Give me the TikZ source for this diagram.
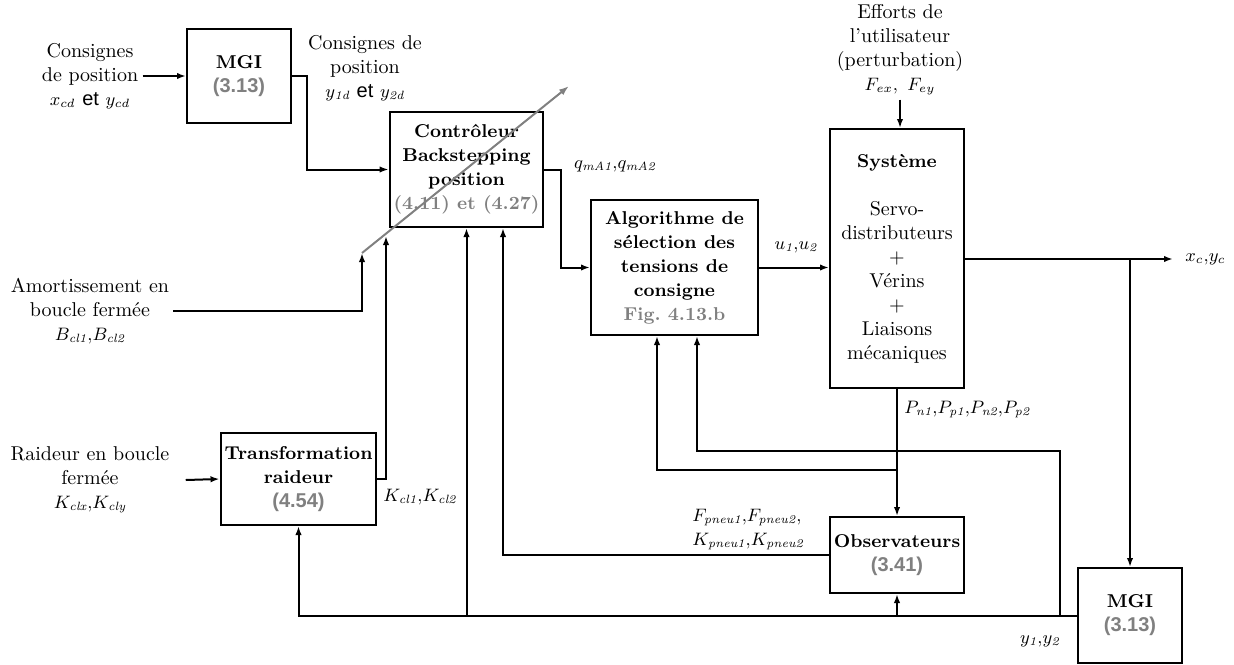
\documentclass[tikz,border=0pt]{standalone}
\usepackage{fontspec}
\newfontfamily\arialfont{Liberation Sans}
\usepackage{tikz}
\usetikzlibrary{
  arrows.meta,
  positioning,
  calc
}
\definecolor{RefGray}{RGB}{128,128,128}
\newcommand{\eqgris}[1]{{\color{RefGray}#1}}
\newcommand{\eqsans}[1]{{\fontsize{10}{12}\selectfont\arialfont\bfseries\color{RefGray}#1}}
\newcommand{\grand}[1]{{\fontsize{9}{12}\selectfont$#1$}}
\tikzset{
  bloc/.style={draw,line width=1pt,align=center,font=\fontsize{9.3}{12}\selectfont\bfseries,inner sep=2pt},
  entree/.style={align=center,inner sep=2pt},
  fleche/.style={-{Latex[length=4.5pt,width=3.2pt]},line width=1pt},
  reglage/.style={-{Latex[length=5pt,width=3.5pt]},line width=1pt,draw=RefGray}
}

\begin{document}
\begin{tikzpicture}[x=0.5pt,y=-0.5pt]
\useasboundingbox (0,0) rectangle (1234,664);
\node[bloc,minimum width=52pt,minimum height=47pt] (mgiA) at (239,76) {MGI\\\eqsans{(3.13)}};
\node[bloc,minimum width=73.5pt,minimum height=57.5pt] (ctrl) at (466.5,169.5) {Contr\^oleur\\Backstepping\\position\\\eqgris{(4.11) et (4.27)}};
\node[bloc,minimum width=83.5pt,minimum height=67.5pt] (algo) at (674.5,267.5) {Algorithme de\\s\'election des\\tensions de\\consigne\\\eqgris{Fig.\ 4.13.b}};
\node[bloc,font=\normalfont,minimum width=67pt,minimum height=129.5pt] (sys) at (897,258.5) {{\fontsize{9.3}{12}\selectfont\bfseries Syst\`eme}\\[12pt]Servo-\\distributeurs\\+\\V\'erins\\+\\Liaisons\\m\'ecaniques};
\node[bloc,minimum width=77.5pt,minimum height=46pt] (trans) at (298.5,479) {Transformation\\raideur\\\eqsans{(4.54)}};
\node[bloc,minimum width=67pt,minimum height=38pt] (obs) at (897,555) {Observateurs\\\eqsans{(3.41)}};
\node[bloc,minimum width=52pt,minimum height=47.5pt] (mgiB) at (1130,615.5) {MGI\\\eqsans{(3.13)}};

\node[entree] (inPos) at (90,76) {Consignes\\de position\\\grand{x_{cd}} {\arialfont et} \grand{y_{cd}}};
\node[entree] (inAmort) at (90,311) {Amortissement en\\boucle ferm\'ee\\\grand{B_{\mathit{cl1}}{,}B_{\mathit{cl2}}}};
\node[entree] (inRaid) at (90,480) {Raideur en boucle\\ferm\'ee\\\grand{K_{\mathit{clx}}{,}K_{\mathit{cly}}}};
\node[entree] (inEff) at (900,50) {Efforts de\\l'utilisateur\\(perturbation)\\\grand{F_{ex},\ F_{ey}}};
\node[entree] (lblPos) at (365,68) {Consignes de\\position\\\grand{y_{\mathit{1d}}} {\arialfont et} \grand{y_{\mathit{2d}}}};
\node[entree] (lblQ) at (615,166) {\grand{q_{\mathit{mA1}}{,}q_{\mathit{mA2}}}};
\node[entree] (lblU) at (796,247) {\grand{u_{\mathit{1}}{,}u_{\mathit{2}}}};
\node[entree] (lblK) at (420,497) {\grand{K_{\mathit{cl1}}{,}K_{\mathit{cl2}}}};
\node[entree,anchor=west] (lblP) at (900,410) {\grand{P_{\mathit{n1}}{,}P_{\mathit{p1}}{,}P_{\mathit{n2}}{,}P_{\mathit{p2}}}};
\node[entree,align=left,anchor=west] (lblF) at (688,530) {\grand{F_{\mathit{pneu1}}{,}F_{\mathit{pneu2}}{,}}\\\grand{K_{\mathit{pneu1}}{,}K_{\mathit{pneu2}}}};
\node[entree] (lblY) at (1040,641) {\grand{y_{\mathit{1}}{,}y_{\mathit{2}}}};

\coordinate (adjA) at (362,253);
\coordinate (adjB) at (569,86);
\coordinate (kTip) at (386,236);
\coordinate (sortie) at (1173,259);
\coordinate (pBr) at (897,470);
\coordinate (yBr) at (1060,615.5);
\coordinate (yHaut) at (1060,451);
\node[entree,right=4pt of sortie] (lblX) {\grand{x_c{,}y_c}};

\draw[fleche] (inPos.east) -- (mgiA.west);
\draw[fleche] (mgiA.east) -- ++(15,0) |- (ctrl.west);
\draw[reglage] (adjA) -- (adjB);
\draw[fleche] (inAmort.east) -| (adjA);
\draw[fleche] ([xshift=6pt]inRaid.east) -- (trans.west);
\draw[fleche] (trans.east) -| (kTip);
\draw[fleche] (ctrl.east) -- ++(17,0) |- (algo.west);
\draw[fleche] (algo.east) -- (algo.east -| sys.west);
\draw[fleche] (inEff.south) -- (inEff.south |- sys.north);
\draw[fleche] (sys.east |- sortie) -- (sortie);
\draw[fleche] (mgiB.north |- sortie) -- (mgiB.north);
\draw[fleche] (sys.south) -- (obs.north);
\draw[fleche] (pBr) -| ($(algo.south)+(-17.5,0)$);
\draw[fleche] (yBr) -- (yHaut) -| ($(algo.south)+(22.5,0)$);
\draw[fleche] (mgiB.west) -| (trans.south);
\draw[fleche] (obs.south |- mgiB.west) -- (obs.south);
\draw[fleche] (ctrl.south |- mgiB.west) -- (ctrl.south);
\draw[fleche] (obs.west) -| ($(ctrl.south)+(36.5,0)$);
\end{tikzpicture}
\end{document}
